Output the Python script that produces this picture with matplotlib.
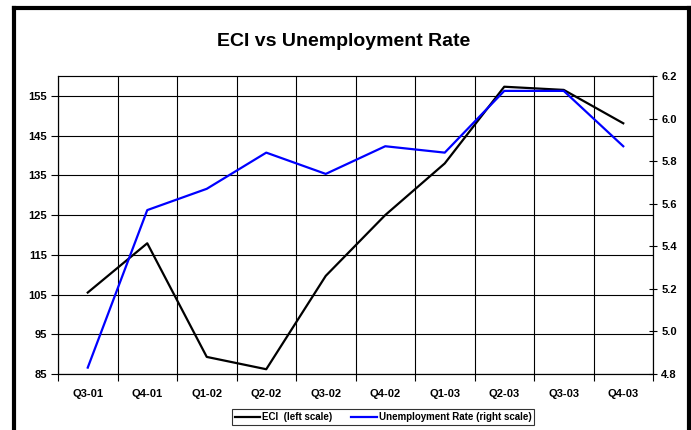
import matplotlib
matplotlib.use("Agg")
import matplotlib.pyplot as plt
from matplotlib.lines import Line2D

quarters = ["Q3-01", "Q4-01", "Q1-02", "Q2-02", "Q3-02",
            "Q4-02", "Q1-03", "Q2-03", "Q3-03", "Q4-03"]
eci = [105.5, 117.9, 89.3, 86.2, 109.7, 125.0, 138.0, 157.3, 156.5, 148.1]
unemployment = [4.83, 5.57, 5.67, 5.84, 5.74, 5.87, 5.84, 6.13, 6.13, 5.87]

plt.rcParams['font.family'] = ['Liberation Sans', 'DejaVu Sans']
plt.rcParams['font.weight'] = 'bold'

fig = plt.figure(figsize=(6.91, 4.30), dpi=100)
ax = fig.add_axes([58/691, 1 - 374/430, (653 - 58)/691, (374 - 76)/430])
ax2 = ax.twinx()

x = list(range(len(quarters)))
l1, = ax.plot(x, eci, color='black', lw=1.6, label='ECI  (left scale)')
l2, = ax2.plot(x, unemployment, color='#0000ff', lw=1.6, label='Unemployment Rate (right scale)')

ax.set_xlim(-0.5, len(quarters) - 0.5)
ax.set_ylim(85, 160)
ax.set_yticks(range(85, 160, 10))
ax2.set_ylim(4.8, 6.2)
ax2.set_yticks([4.8, 5.0, 5.2, 5.4, 5.6, 5.8, 6.0, 6.2])
ax2.set_yticklabels(["4.8", "5.0", "5.2", "5.4", "5.6", "5.8", "6.0", "6.2"])

ax.set_xticks(x)
ax.set_xticklabels(quarters)
ax.set_xticks([i + 0.5 for i in range(-1, len(quarters))], minor=True)
ax.tick_params(axis='x', which='major', length=0, pad=11, labelsize=8)
ax.tick_params(axis='x', which='minor', length=5, direction='out', width=0.8)
ax.tick_params(axis='y', length=5, direction='out', width=0.8, labelsize=8, pad=3)
ax2.tick_params(axis='y', length=6, direction='inout', width=0.8, labelsize=8, pad=3)

ax.grid(True, axis='y', color='black', lw=0.8)
ax.grid(True, axis='x', which='minor', color='black', lw=0.8)
ax.set_axisbelow(True)

for s in ['left', 'right', 'top', 'bottom']:
    ax.spines[s].set_linewidth(0.8)
    ax2.spines[s].set_linewidth(0.8)
ax.spines['top'].set_color('#777777')

fig.text(0.497, 1 - 42/430, 'ECI vs Unemployment Rate', ha='center', va='center',
         fontsize=14, fontweight='bold')

leg = fig.legend(handles=[l1, l2], loc='center', bbox_to_anchor=(383/691, 1 - 417/430),
                 ncol=2, fontsize=7, frameon=True, fancybox=False,
                 handlelength=2.6, handletextpad=0.2, columnspacing=2.0,
                 borderpad=0.3, borderaxespad=0)
leg.get_frame().set_edgecolor('black')
leg.get_frame().set_linewidth(0.8)
for t in leg.get_texts():
    t.set_fontweight('bold')

# outer chart border
fig.add_artist(Line2D([14/691, 14/691], [0, 1 - 8/430], color='black', lw=3, transform=fig.transFigure))
fig.add_artist(Line2D([689/691, 689/691], [0, 1 - 8/430], color='black', lw=3, transform=fig.transFigure))
fig.add_artist(Line2D([14/691, 689/691], [1 - 8/430, 1 - 8/430], color='black', lw=3, transform=fig.transFigure))

fig.savefig('out.png', dpi=100)
